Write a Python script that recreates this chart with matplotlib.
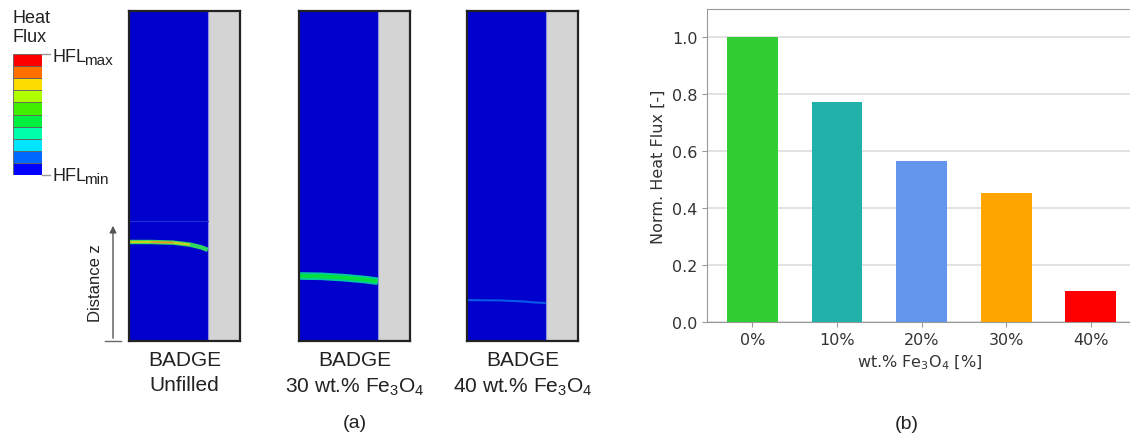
import matplotlib
matplotlib.use("Agg")
import matplotlib.pyplot as plt

# (b) bar chart data
loadings = ["0%", "10%", "20%", "30%", "40%"]
norm_flux = [1.0, 0.772, 0.565, 0.452, 0.108]
bar_colors = ["limegreen", "lightseagreen", "cornflowerblue", "orange", "red"]

# (a) heat flux legend colours, min -> max
legend_colors = ["#0000ff", "#0068ff", "#00e4ff", "#00ffaa", "#00f040",
                 "#40f000", "#b0ff00", "#ffdc00", "#ff7000", "#ff0000"]

# (a) simulated front positions (fraction of panel width, fraction of height)
blue_frac = 0.71
front_x = [
    [0.0, 0.2, 0.4, 0.55, 0.65, 0.71],
    [0.0, 0.2, 0.4, 0.6, 0.71],
    [0.0, 0.3, 0.5, 0.6, 0.71],
]
front_z = [
    [0.300, 0.300, 0.298, 0.292, 0.284, 0.276],
    [0.197, 0.196, 0.192, 0.186, 0.181],
    [0.124, 0.123, 0.120, 0.117, 0.115],
]
panel_titles = ["BADGE\nUnfilled",
                "BADGE\n30 wt.% Fe$_\\mathregular{3}$O$_\\mathregular{4}$",
                "BADGE\n40 wt.% Fe$_\\mathregular{3}$O$_\\mathregular{4}$"]
panel_left = [129, 299, 467]

W, H = 1130, 439
fig = plt.figure(figsize=(W / 100, H / 100), dpi=100)
arial = "Liberation Sans"

def fx(px):
    return px / W

def fy(py):
    return 1 - py / H

# ---- panel (a) ----
for i, left in enumerate(panel_left):
    ax = fig.add_axes([fx(left), fy(342), 111 / W, 330 / H])
    ax.set_facecolor("#d4d4d4")
    ax.axvspan(0, blue_frac, color="#0000cc", lw=0)
    ax.axvline(blue_frac, color="#9090e0", lw=0.8)
    if i == 0:
        ax.plot([0, blue_frac], [0.364, 0.364], color="#2030d8", lw=0.8)
        ax.plot(front_x[i], front_z[i], color="#30d860", lw=3.2, solid_capstyle="butt")
        ax.plot(front_x[i][:4], front_z[i][:4], color="#c8d020", lw=1.6, solid_capstyle="butt")
        ax.plot(front_x[i][1:3], front_z[i][1:3], color="#e09030", lw=1.0, solid_capstyle="butt")
    elif i == 1:
        ax.plot(front_x[i], front_z[i], color="#00c8a0", lw=5.5, solid_capstyle="butt")
        ax.plot(front_x[i], front_z[i], color="#00e040", lw=2.8, solid_capstyle="butt")
    else:
        ax.plot(front_x[i], front_z[i], color="#0a5ae8", lw=1.5, solid_capstyle="butt")
    ax.set_xlim(0, 1)
    ax.set_ylim(0, 1)
    ax.set_xticks([])
    ax.set_yticks([])
    for s in ax.spines.values():
        s.set_color("#222222")
        s.set_linewidth(1.6)
    fig.text(fx(left + 55.5), fy(351), panel_titles[i], ha="center", va="top",
             fontsize=15, family=arial, color="#222222", linespacing=1.4)

# heat flux legend
cax = fig.add_axes([fx(13), fy(176), 29 / W, 121 / H])
for k, c in enumerate(legend_colors):
    cax.bar(0, 1, bottom=k, width=1, color=c, edgecolor="#606060", lw=0.6)
cax.set_xlim(-0.5, 0.5)
cax.set_ylim(0, len(legend_colors))
cax.axis("off")
fig.add_artist(plt.Line2D([fx(42), fx(50)], [fy(55), fy(55)], color="#999999", lw=1))
fig.add_artist(plt.Line2D([fx(42), fx(50)], [fy(176), fy(176)], color="#999999", lw=1))
fig.text(fx(12), fy(10), "Heat\nFlux", ha="left", va="top", fontsize=13,
         family=arial, color="#222222", linespacing=1.15)
for label, ypx in [("max", 58), ("min", 177)]:
    fig.text(fx(52), fy(ypx), "HFL", ha="left", va="center",
             fontsize=13, family=arial, color="#222222")
    fig.text(fx(84), fy(ypx + 3), label, ha="left", va="center",
             fontsize=11, family=arial, color="#222222")

# distance arrow
fig.add_artist(plt.Line2D([fx(105), fx(121)], [fy(342), fy(342)], color="#666666", lw=1))
fig.add_artist(matplotlib.patches.FancyArrowPatch(
    (fx(113), fy(342)), (fx(113), fy(224)), transform=fig.transFigure,
    arrowstyle="-|>,head_length=4,head_width=2", color="#555555", lw=1))
fig.text(fx(96), fy(283), "Distance z", rotation=90, ha="center", va="center",
         fontsize=12, family=arial, color="#222222")
fig.text(fx(355), fy(424), "(a)", ha="center", va="center", fontsize=14,
         family=arial, color="#222222")

# ---- panel (b) ----
bx = fig.add_axes([fx(707), fy(323), (W - 707) / W + 0.002, 313 / H])
pos = list(range(len(loadings)))
bx.bar(pos, norm_flux, width=0.6, color=bar_colors, zorder=3)
bx.set_xlim(-0.535, 4.49)
bx.set_ylim(0, 1.1)
bx.set_yticks([0.0, 0.2, 0.4, 0.6, 0.8, 1.0])
bx.set_xticks(pos)
bx.set_xticklabels(loadings)
bx.grid(axis="y", color="#dddddd", lw=1.2, zorder=0)
for s in bx.spines.values():
    s.set_color("#999999")
bx.spines["right"].set_visible(False)
bx.tick_params(colors="#999999", labelcolor="#333333", labelsize=11.5)
bx.set_ylabel("Norm. Heat Flux [-]", fontsize=11.5, color="#333333")
bx.set_xlabel("wt.% Fe$_3$O$_4$ [%]", fontsize=11.5, color="#333333")
fig.text(fx(907), fy(425), "(b)", ha="center", va="center", fontsize=14,
         family=arial, color="#222222")

fig.savefig("out.png", dpi=100)
